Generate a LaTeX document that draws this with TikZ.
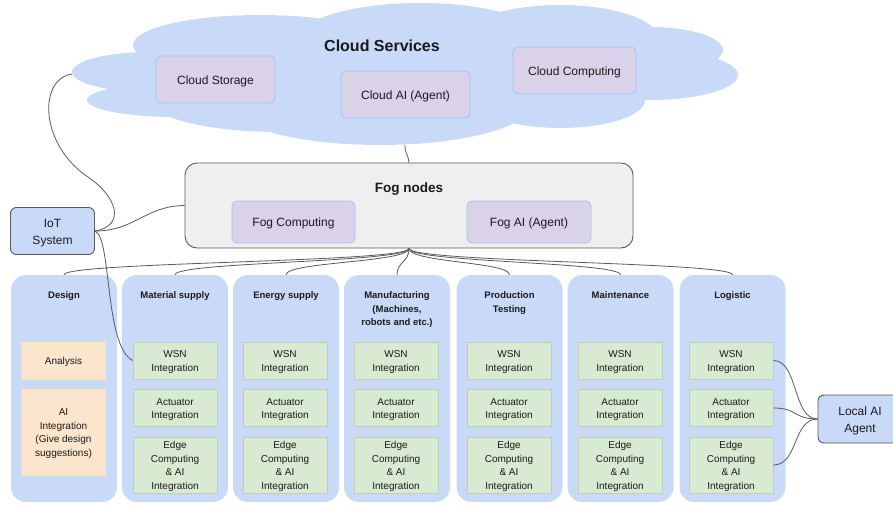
\documentclass[tikz,border=0pt]{standalone}
\usepackage{fontspec}
\setmainfont{Liberation Sans}
\usetikzlibrary{calc}
\definecolor{cloudblue}{HTML}{C9DAF8}
\definecolor{purplefill}{HTML}{D9D2E9}
\definecolor{purpleline}{HTML}{A4C2F4}
\definecolor{greenfill}{HTML}{D9EAD3}
\definecolor{greenline}{HTML}{B9D3B0}
\definecolor{orangefill}{HTML}{FCE5CD}
\definecolor{orangeline}{HTML}{FFE599}
\definecolor{foggray}{HTML}{EFEFEF}
\definecolor{darkline}{HTML}{595959}
\definecolor{txt}{HTML}{1A1A1A}
\newcommand{\ctext}[1]{\raisebox{-1.5pt}[\height][\depth]{\begin{tabular}{@{}c@{}}#1\end{tabular}}}
\begin{document}
\begin{tikzpicture}[x=1pt,y=-1pt,
  every node/.style={text=txt},
  pbox/.style={draw=purpleline, fill=purplefill, line width=0.8pt, rounded corners=5pt, align=center, inner sep=0pt, font=\fontsize{12}{15}\selectfont},
  gbox/.style={draw=greenline, fill=greenfill, line width=0.8pt, align=center, inner sep=0pt, minimum width=84pt, font=\fontsize{10}{13.5}\selectfont},
  obox/.style={draw=orangeline, fill=orangefill, line width=0.8pt, align=center, inner sep=0pt, minimum width=84pt, font=\fontsize{10}{13.5}\selectfont},
  colbox/.style={fill=cloudblue, rounded corners=15pt, minimum width=106pt, minimum height=227pt, inner sep=0pt},
  coltitle/.style={anchor=north, align=center, inner sep=0pt, font=\bfseries\fontsize{9.5}{13.7}\selectfont},
  sysbox/.style={draw=darkline, fill=cloudblue, line width=0.9pt, rounded corners=6pt, align=center, inner sep=0pt, font=\fontsize{12}{16.5}\selectfont},
  conn/.style={draw=darkline, line width=0.8pt}
]
\useasboundingbox (0,0) rectangle (893,506);

% ---------- Cloud shape ----------
\begin{scope}[fill=cloudblue]
  \fill (150,72) ellipse [x radius=78, y radius=20];
  \fill (175,100) ellipse [x radius=88, y radius=17];
  \fill (260,45) ellipse [x radius=127, y radius=30];
  \fill (420,38) ellipse [x radius=120, y radius=35];
  \fill (560,40) ellipse [x radius=100, y radius=35];
  \fill (650,50) ellipse [x radius=73, y radius=23];
  \fill (650,75) ellipse [x radius=88, y radius=25];
  \fill (560,100) ellipse [x radius=85, y radius=28];
  \fill (380,105) ellipse [x radius=150, y radius=40];
  \fill (280,100) ellipse [x radius=130, y radius=32];
  \fill (400,75) ellipse [x radius=250, y radius=45];
\end{scope}
\coordinate (cloudleft) at (72,74);
\coordinate (cloudbot) at (405,145);

\node[inner sep=0pt, font=\bfseries\fontsize{16}{19}\selectfont] (cloudtitle) at (382,46) {Cloud Services};
\node[pbox, minimum width=119pt, minimum height=47pt] (cstore) at (215.5,79.5) {\ctext{Cloud Storage}};
\node[pbox, minimum width=129pt, minimum height=47pt] (cai) at (405.5,94.5) {\ctext{Cloud AI (Agent)}};
\node[pbox, minimum width=123pt, minimum height=47pt] (ccomp) at (574.5,70.5) {\ctext{Cloud Computing}};

% ---------- Fog ----------
\node[draw=darkline, fill=foggray, line width=0.9pt, rounded corners=12pt, minimum width=448pt, minimum height=85pt, inner sep=0pt] (fog) at (409,205.5) {};
\node[inner sep=0pt, font=\bfseries\fontsize{13.5}{16}\selectfont] (fogtitle) at (409,189.5) {Fog nodes};
\node[pbox, minimum width=123pt, minimum height=42pt] (fcomp) at (293.5,222) {\ctext{Fog Computing}};
\node[pbox, minimum width=124pt, minimum height=42pt] (fai) at (529,222) {\ctext{Fog AI (Agent)}};

% ---------- IoT System ----------
\node[sysbox, minimum width=84pt, minimum height=47pt] (iot) at (52.5,231) {\ctext{IoT\\System}};

% ---------- Local AI Agent ----------
\node[sysbox, minimum width=84pt, minimum height=48pt] (local) at (860,419) {\ctext{Local AI\\Agent}};

% ---------- Columns ----------
\foreach \n/\cx in {1/64,2/175,3/286,4/397,5/509.5,6/620.5,7/732.5}{
  \node[colbox] (col\n) at (\cx,388.5) {};
}
\node[coltitle] (t1) at (64,291.5) {Design};
\node[coltitle] (t2) at (175,291.5) {Material supply};
\node[coltitle] (t3) at (286,291.5) {Energy supply};
\node[coltitle] (t4) at (397,291.5) {Manufacturing\\(Machines,\\robots and etc.)};
\node[coltitle] (t5) at (509.5,291.5) {Production\\Testing};
\node[coltitle] (t6) at (620.5,291.5) {Maintenance};
\node[coltitle] (t7) at (732.5,291.5) {Logistic};

% Design inner boxes
\node[obox, minimum height=37pt] (analysis) at (63.5,360.5) {\ctext{Analysis}};
\node[obox, minimum height=86pt] (aiint) at (63.5,432) {\ctext{AI\\Integration\\(Give design\\suggestions)}};

% Other columns inner boxes
\foreach \n/\bx in {2/175,3/285,4/396,5/509,6/620,7/731}{
  \node[gbox, minimum height=37pt] (wsn\n) at (\bx,360.5) {\ctext{WSN\\Integration}};
  \node[gbox, minimum height=37pt] (act\n) at (\bx,408) {\ctext{Actuator\\Integration}};
  \node[gbox, minimum height=56pt] (edge\n) at (\bx,465) {\ctext{Edge\\Computing\\\& AI\\Integration}};
}

% ---------- Connectors ----------
\draw[conn] (cloudbot) .. controls (404,152) and (409,156) .. (fog.north);
\draw[conn] (cloudleft) .. controls (40,78) and (38,140) .. (85,175) .. controls (118,196) and (126,226) .. (iot.east);
\draw[conn] (iot.east) .. controls (135,231) and (145,206) .. (fog.west);
\draw[conn] (iot.east) .. controls (112,238) and (104,345) .. (wsn2.west);

\foreach \n in {1,...,7}{
  \draw[conn] (fog.south) .. controls ($(fog.south)+(0,14)$) and ($(col\n.north)+(0,-13)$) .. (col\n.north);
}

\foreach \b in {wsn7,act7,edge7}{
  \draw[conn] (\b.east) .. controls ($(\b.east)+(25,0)$) and ($(local.west)+(-25,0)$) .. (local.west);
}
\end{tikzpicture}
\end{document}
